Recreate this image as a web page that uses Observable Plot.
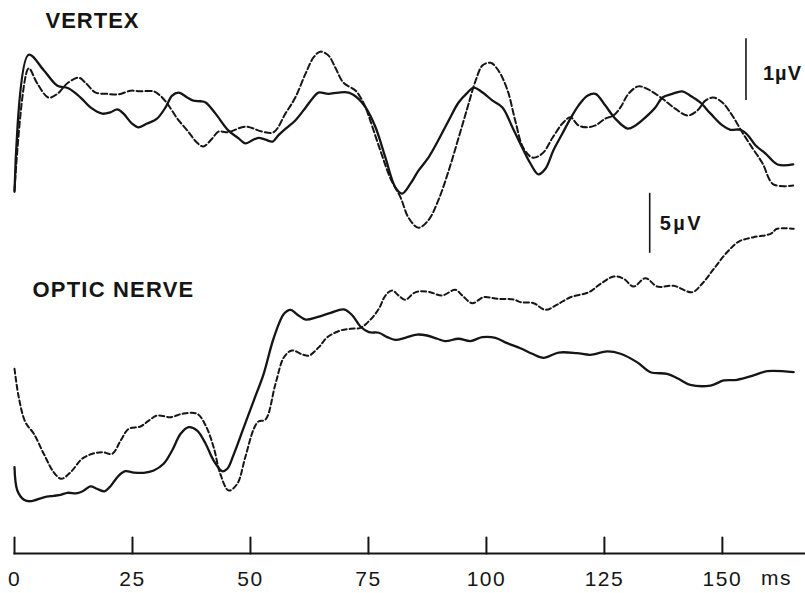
<!DOCTYPE html>
<html><head><meta charset="utf-8">
<script src="https://cdn.jsdelivr.net/npm/d3@7"></script>
<script src="https://cdn.jsdelivr.net/npm/@observablehq/plot@0.6"></script>
<style>
html,body{margin:0;padding:0;background:#fff;}
#chart{position:relative;width:805px;height:593px;background:#fff;}
#chart svg{position:absolute;left:0;top:0;}
</style></head><body><div id="chart"></div>
<script>
// time in ms, amplitude in µV (arbitrary baseline)
const vertexSolid = [[0,-0.02],[3.0,2.19],[6.2,1.94],[9.1,1.69],[11.4,1.65],[14.0,1.50],[16.1,1.34],[18.6,1.24],[20.3,1.26],[21.8,1.31],[23.1,1.24],[24.9,1.08],[26.3,1.02],[28.1,1.08],[30.2,1.16],[32.0,1.34],[33.4,1.53],[34.8,1.58],[36.6,1.50],[37.9,1.45],[39.4,1.44],[40.5,1.42],[42.6,1.24],[45.3,0.97],[47.5,0.84],[48.9,0.76],[50.4,0.81],[51.7,0.85],[53.2,0.82],[54.7,0.79],[55.9,0.89],[57.8,1.02],[59.5,1.13],[61.7,1.34],[63.1,1.48],[64.4,1.58],[66.5,1.56],[68.6,1.58],[70.8,1.58],[72.9,1.48],[74.4,1.34],[76.5,1.02],[78.6,0.53],[80.7,0.05],[82.1,-0.05],[83.9,0.11],[85.6,0.32],[87.7,0.53],[89.8,0.81],[92.0,1.13],[94.1,1.42],[96.0,1.58],[97.3,1.66],[99.2,1.58],[101.3,1.45],[103.4,1.34],[105.5,1.02],[107.6,0.69],[109.3,0.44],[111.0,0.26],[112.5,0.35],[114.2,0.65],[116.1,0.92],[117.8,1.16],[119.5,1.37],[121.4,1.53],[123.1,1.56],[125.2,1.37],[127.3,1.16],[129.9,1.00],[131.6,1.05],[133.7,1.18],[135.8,1.34],[137.3,1.50],[139.4,1.56],[141.5,1.60],[143.2,1.53],[145.3,1.42],[147.5,1.24],[150.0,1.05],[151.7,0.98],[153.8,0.98],[155.3,0.90],[157.0,0.73],[159.1,0.60],[161.7,0.42],[165.0,0.42]];

const vertexDashed = [[0,0],[3.0,1.97],[4.8,1.73],[7.2,1.50],[9.1,1.56],[11.2,1.73],[13.6,1.82],[15.0,1.74],[17.2,1.58],[19.6,1.56],[22.0,1.55],[24.6,1.61],[26.7,1.60],[29.5,1.60],[30.9,1.53],[32.4,1.40],[34.5,1.16],[36.6,0.97],[38.7,0.77],[40.0,0.71],[41.9,0.84],[43.2,0.95],[45.3,0.94],[48.9,1.03],[52.5,0.95],[54.9,0.94],[57.4,1.24],[59.5,1.50],[61.7,1.89],[63.4,2.15],[64.8,2.24],[66.5,2.18],[68.0,1.98],[69.7,1.74],[72.3,1.61],[73.7,1.45],[74.4,1.34],[77.5,0.65],[79.7,0.19],[81.8,-0.11],[83.5,-0.44],[85.6,-0.60],[87.7,-0.48],[89.8,-0.16],[92.0,0.32],[94.1,0.85],[96.0,1.34],[97.7,1.77],[99.2,2.02],[100.9,2.06],[102.5,1.94],[104.5,1.61],[106.1,1.13],[107.8,0.69],[109.8,0.53],[111.9,0.60],[114.0,0.85],[116.1,1.08],[117.8,1.18],[119.5,1.05],[121.4,1.02],[123.1,1.05],[125.2,1.16],[126.9,1.21],[128.4,1.34],[130.1,1.56],[132.2,1.68],[134.3,1.63],[137.3,1.48],[140.0,1.32],[142.6,1.21],[144.7,1.29],[146.4,1.45],[148.1,1.50],[150.0,1.42],[152.1,1.21],[154.2,0.94],[156.4,0.68],[158.5,0.44],[160.8,0.10],[165.0,0.08]];

const opticSolid = [[0,0.28],[0.6,-1.67],[2.0,-2.44],[3.4,-2.56],[6.2,-2.23],[8.3,-2.11],[9.8,-2.03],[11.2,-1.86],[13.3,-1.89],[14.7,-1.67],[16.1,-1.33],[17.5,-1.53],[19.1,-1.73],[20.3,-1.33],[22.1,-0.42],[23.5,-0.06],[25.3,-0.17],[27.4,-0.19],[29.5,0.00],[31.6,0.56],[33.4,1.67],[35.2,3.06],[36.9,3.61],[38.7,3.33],[40.5,2.23],[42.2,0.83],[44.0,-0.06],[45.1,0.14],[46.5,1.39],[48.6,3.61],[50.7,5.83],[52.8,8.06],[54.9,11.0],[57.1,13.06],[58.5,13.39],[59.9,13.00],[61.7,12.58],[64.1,12.78],[67.0,13.14],[69.8,13.42],[71.6,12.92],[73.3,12.00],[75.1,11.53],[77.2,11.48],[79.0,11.11],[80.7,10.89],[82.8,11.06],[85.3,11.33],[87.4,11.25],[89.6,10.98],[91.3,10.78],[94.1,10.98],[96.6,10.78],[99.1,11.11],[101.9,11.06],[104.4,10.61],[107.2,10.19],[109.7,9.73],[112.1,9.39],[115.3,9.83],[119.2,9.78],[122.0,9.64],[125.6,9.92],[128.4,9.73],[131.9,9.03],[134.8,8.19],[138.3,8.06],[140.7,7.64],[143.2,7.14],[147.5,7.08],[150.3,7.50],[153.1,7.56],[156.6,7.92],[159.5,8.28],[165.1,8.19]];

const opticDashed = [[0,8.47],[0.9,6.11],[2.3,4.03],[4.1,3.06],[6.2,1.39],[8.3,-0.14],[9.9,-0.69],[11.9,-0.14],[14.3,0.97],[16.5,1.39],[18.6,1.53],[20.7,1.39],[22.5,2.50],[24.2,3.47],[26.7,3.67],[28.5,4.17],[30.2,4.58],[33.1,4.44],[35.5,4.72],[38.7,4.72],[40.5,3.75],[42.2,1.94],[43.6,-0.28],[45.4,-1.67],[47.2,-1.11],[48.9,1.11],[50.7,3.47],[51.7,4.08],[53.2,4.25],[55.3,7.22],[57.1,9.44],[58.8,10.00],[61.0,9.67],[62.4,9.58],[64.5,10.28],[66.3,11.11],[69.1,11.67],[71.2,11.81],[73.3,11.89],[75.4,12.56],[77.2,13.47],[78.6,14.58],[80.0,15.00],[81.4,14.58],[82.8,14.22],[84.6,14.78],[86.0,14.94],[88.1,14.86],[90.6,14.58],[93.4,15.06],[94.9,14.58],[97.0,13.94],[99.4,14.44],[102.3,14.31],[105.8,14.25],[107.2,14.03],[110.0,13.94],[112.5,13.39],[115.0,13.83],[117.8,14.44],[121.7,14.86],[124.2,15.56],[127.0,16.17],[129.1,15.97],[131.2,15.33],[133.7,16.03],[136.2,15.33],[139.7,15.39],[143.6,14.86],[145.7,15.56],[148.2,16.81],[151.0,18.19],[153.5,19.08],[156.6,19.44],[160.2,19.72],[161.6,20.14],[165.1,20.14]];

const tickValues = [0, 25, 50, 75, 100, 125, 150];
const timeUnit = "ms";
const vertexLabel = "VERTEX";
const opticLabel = "OPTIC NERVE";
const vertexScaleLabel = "1µV";
const opticScaleLabel = "5µV";

const font = "'Liberation Sans', Arial, Helvetica, sans-serif";
const ink = "#151515";
const common = {
  width: 805, height: 593,
  marginLeft: 14, marginRight: 1, marginTop: 0, marginBottom: 40,
  style: {background: "transparent", fontFamily: font, color: ink, overflow: "visible"}
};
const xDomain = [0, 167.4];
const T = d => d[0], V = d => d[1];
const tickShape = {draw(context, l) { context.moveTo(0, 0); context.lineTo(0, -l); }};

const optic = Plot.plot({
  ...common,
  x: {domain: xDomain, axis: null},
  y: {domain: [-6.917, 39.167], axis: null},
  marks: [
    Plot.frame({anchor: "bottom", stroke: ink, strokeWidth: 2}),
    Plot.vectorX(tickValues, {x: d => d, frameAnchor: "bottom", length: 16, anchor: "start", shape: tickShape, stroke: ink, strokeWidth: 2}),
    Plot.axisX({ticks: tickValues, tickSize: 0, tickPadding: 18, fontSize: 21, tickFormat: d => String(d), label: null, fill: ink}),
    Plot.text([timeUnit], {x: () => tickValues[tickValues.length - 1], frameAnchor: "bottom", dx: 54, dy: 25, lineAnchor: "middle", fontSize: 21, fill: ink}),
    Plot.line(opticDashed, {x: T, y: V, curve: "catmull-rom", stroke: ink, strokeWidth: 2, strokeDasharray: "5,3"}),
    Plot.line(opticSolid, {x: T, y: V, curve: "catmull-rom", stroke: ink, strokeWidth: 2.3}),
    Plot.ruleX([134.6], {y1: 18.1, y2: 23.1, stroke: ink, strokeWidth: 1.6}),
    Plot.text([opticScaleLabel], {x: 134.6, y: 20.6, dx: 10, textAnchor: "start", lineAnchor: "middle", fontSize: 20, fontWeight: "bold", fill: ink}),
    Plot.text([opticLabel], {frameAnchor: "left", dx: 18, dy: 12.5, textAnchor: "start", lineAnchor: "middle", fontSize: 22, fontWeight: "bold", fill: ink})
  ]
});

const vertex = Plot.plot({
  ...common,
  x: {domain: xDomain, axis: null},
  y: {domain: [-5.855, 3.065], axis: null},
  marks: [
    Plot.line(vertexDashed, {x: T, y: V, curve: "catmull-rom", stroke: ink, strokeWidth: 2, strokeDasharray: "6,3"}),
    Plot.line(vertexSolid, {x: T, y: V, curve: "catmull-rom", stroke: ink, strokeWidth: 2.3}),
    Plot.ruleX([155], {y1: 1.45, y2: 2.45, stroke: ink, strokeWidth: 1.6}),
    Plot.text([vertexScaleLabel], {x: 155, y: 1.95, dx: 17, dy: 4, textAnchor: "start", lineAnchor: "middle", fontSize: 20, fontWeight: "bold", fill: ink}),
    Plot.text([vertexLabel], {frameAnchor: "top-left", dx: 31, dy: 20, textAnchor: "start", lineAnchor: "middle", fontSize: 22, fontWeight: "bold", fill: ink})
  ]
});

const spacing = {[vertexLabel]: "1px", [opticLabel]: "1.2px", [vertexScaleLabel]: "1px", [opticScaleLabel]: "2.5px"};
for (const svg of [optic, vertex]) {
  svg.querySelectorAll("text").forEach(t => {
    const s = t.textContent;
    t.style.letterSpacing = spacing[s] ?? "1.5px";
  });
}
const chart = document.getElementById("chart");
chart.appendChild(optic);
chart.appendChild(vertex);
</script></body></html>
